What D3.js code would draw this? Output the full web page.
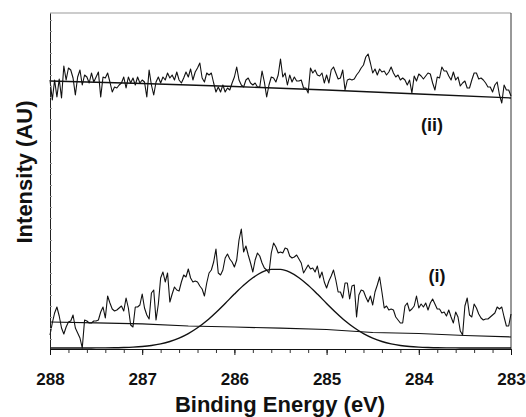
<!DOCTYPE html>
<html>
<head>
<meta charset="utf-8">
<script src="https://cdn.jsdelivr.net/npm/d3@7"></script>
<style>
  body { margin: 0; background: #fff; }
  svg { display: block; }
  text { font-family: "Liberation Sans", Arial, sans-serif; font-weight: bold; fill: #111; }
</style>
</head>
<body>
<script>
// binding energy grid of the scans (eV), 0.025 eV channels
const eStart = 288;
const eEnd = 283;
const eStep = 0.025;
const xTicks = [288, 287, 286, 285, 284, 283];

// spectrum (ii), intensity in arbitrary units
const spectrumII = [
  269, 249, 269, 252, 270, 251, 283, 269, 281, 279,
  271, 254, 272, 279, 264, 274, 272, 266, 276, 267,
  272, 277, 252, 272, 271, 276, 267, 257, 262, 261,
  264, 266, 272, 261, 272, 266, 271, 264, 272, 266,
  269, 267, 252, 279, 264, 254, 267, 272, 266, 272,
  269, 276, 271, 274, 269, 277, 269, 266, 271, 277,
  272, 280, 269, 277, 281, 286, 271, 267, 276, 274,
  276, 266, 257, 262, 257, 264, 257, 261, 259, 266,
  272, 282, 269, 264, 262, 269, 271, 266, 264, 266,
  262, 262, 278, 267, 252, 264, 272, 271, 267, 274,
  290, 272, 276, 264, 274, 267, 272, 268, 268, 269,
  261, 261, 256, 281, 276, 279, 274, 273, 276, 266,
  274, 266, 279, 282, 276, 270, 271, 279, 259, 269,
  270, 269, 270, 274, 277, 281, 284, 292, 295, 286,
  276, 280, 274, 280, 277, 278, 274, 277, 282, 276,
  272, 274, 269, 271, 269, 264, 269, 256, 273, 268,
  275, 273, 270, 273, 276, 275, 266, 259, 272, 271,
  282, 278, 278, 273, 269, 277, 269, 272, 263, 266,
  268, 261, 261, 269, 276, 276, 270, 271, 269, 266,
  262, 262, 257, 264, 267, 254, 246, 264, 259, 259,
  253
];

// spectrum (i)
const spectrumI = [
  14, 26, 36, 42, 33, 21, 15, 22, 27, 28,
  34, 21, 16, 11, 1, 29, 28, 26, 26, 28,
  28, 29, 37, 42, 31, 53, 46, 40, 38, 39,
  41, 43, 38, 51, 41, 24, 22, 42, 42, 44,
  55, 41, 34, 30, 56, 59, 29, 45, 71, 77,
  67, 76, 47, 55, 62, 59, 58, 67, 74, 72,
  80, 71, 67, 68, 67, 63, 60, 53, 66, 76,
  79, 87, 100, 76, 74, 79, 91, 95, 90, 87,
  82, 89, 109, 120, 97, 103, 94, 86, 77, 89,
  96, 93, 86, 81, 79, 76, 96, 106, 102, 96,
  97, 96, 101, 100, 93, 91, 92, 94, 90, 86,
  76, 80, 84, 80, 81, 77, 83, 71, 77, 67,
  61, 68, 73, 79, 69, 57, 57, 51, 66, 66,
  50, 63, 64, 32, 54,
  59, 58, 52, 47, 53, 44, 57, 64, 72, 57,
  41, 43, 39, 40, 39, 32, 29, 26, 26, 43,
  46, 38, 40, 43, 53, 41, 45, 42, 46, 39,
  46, 50, 45, 40, 40, 36, 37, 33, 39, 32,
  26, 37, 32, 18, 14, 43, 51, 34, 32, 45,
  41, 35, 31, 29, 30, 30, 32, 34, 36, 42,
  40, 42, 32, 23, 23, 35
];

// backgrounds
const bgIIEnergy = [288, 287, 286, 285, 284, 283];
const bgIIValue = [268, 265.5, 262.5, 259, 255, 251];
const bgIEnergy = [288, 287.5, 287, 286.5, 286, 285.5, 285, 284.5, 284, 283.5, 283];
const bgIValue = [27, 26.2, 25.2, 23, 22, 20.8, 19.5, 16.5, 15.5, 13.5, 12];

// fitted C 1s component, 0.1 eV steps from 288 to 283
const fitEnergy = [
  288.0, 287.9, 287.8, 287.7, 287.6, 287.5, 287.4, 287.3, 287.2, 287.1,
  287.0, 286.9, 286.8, 286.7, 286.6, 286.5, 286.4, 286.3, 286.2, 286.1,
  286.0, 285.9, 285.8, 285.7, 285.6, 285.5, 285.4, 285.3, 285.2, 285.1,
  285.0, 284.9, 284.8, 284.7, 284.6, 284.5, 284.4, 284.3, 284.2, 284.1,
  284.0, 283.9, 283.8, 283.7, 283.6, 283.5, 283.4, 283.3, 283.2, 283.1, 283.0
];
const fitValue = [
  1.0, 1.0, 1.0, 1.0, 1.0, 1.1, 1.1, 1.2, 1.5, 1.9,
  2.5, 3.5, 5.1, 7.5, 10.9, 15.4, 21.2, 28.3, 36.6, 45.6,
  54.9, 63.7, 71.2, 76.8, 79.6, 79.6, 76.8, 71.2, 63.7, 54.9,
  45.6, 36.6, 28.3, 21.2, 15.4, 10.9, 7.5, 5.1, 3.5, 2.5,
  1.9, 1.5, 1.2, 1.1, 1.1, 1.0, 1.0, 1.0, 1.0, 1.0, 1.0
];

const w = 526;
const h = 417;
const plotLeft = 50, plotRight = 511, plotTop = 13, plotBottom = 349;

const energies = spectrumI.map((d, i) => eStart - i * eStep);

const x = d3.scaleLinear().domain([eStart, eEnd]).range([plotLeft, plotRight]);
const y = d3.scaleLinear().domain([0, 336]).range([plotBottom, plotTop]);

const svg = d3.select('body')
  .append('svg')
  .attr('width', w)
  .attr('height', h);

// frame
svg.append('line')
  .attr('x1', plotLeft).attr('x2', plotRight).attr('y1', plotTop).attr('y2', plotTop)
  .attr('stroke', '#999').attr('stroke-width', 1);
svg.append('line')
  .attr('x1', plotRight).attr('x2', plotRight).attr('y1', plotTop).attr('y2', plotBottom)
  .attr('stroke', '#333').attr('stroke-width', 1);

const line = d3.line()
  .x(d => x(d[0]))
  .y(d => y(d[1]));

const smooth = d3.line()
  .x(d => x(d[0]))
  .y(d => y(d[1]))
  .curve(d3.curveMonotoneX);

// backgrounds and fit
svg.append('path')
  .datum(bgIIEnergy.map((e, i) => [e, bgIIValue[i]]))
  .attr('d', line)
  .attr('fill', 'none').attr('stroke', '#111').attr('stroke-width', 1.3);

svg.append('path')
  .datum(bgIEnergy.map((e, i) => [e, bgIValue[i]]))
  .attr('d', line)
  .attr('fill', 'none').attr('stroke', '#111').attr('stroke-width', 1.2);

svg.append('path')
  .datum(fitEnergy.map((e, i) => [e, fitValue[i]]))
  .attr('d', smooth)
  .attr('fill', 'none').attr('stroke', '#111').attr('stroke-width', 1.4);

// spectra
svg.append('path')
  .datum(energies.map((e, i) => [e, spectrumII[i]]))
  .attr('d', line)
  .attr('fill', 'none').attr('stroke', '#111').attr('stroke-width', 1.1)
  .attr('stroke-linejoin', 'round');

svg.append('path')
  .datum(energies.map((e, i) => [e, spectrumI[i]]))
  .attr('d', line)
  .attr('fill', 'none').attr('stroke', '#111').attr('stroke-width', 1.1)
  .attr('stroke-linejoin', 'round');

// x axis: minor ticks every 0.2 eV, labelled every 1 eV
const minorTicks = d3.range(0, 26).map(i => eStart - i * 0.2);
svg.append('g')
  .attr('transform', 'translate(0,' + plotBottom + ')')
  .call(d3.axisBottom(x).tickValues(minorTicks).tickSize(4).tickFormat(''))
  .call(g => g.select('.domain').remove())
  .attr('color', '#333');

const xAxis = svg.append('g')
  .attr('id', 'x-axis')
  .attr('transform', 'translate(0,' + plotBottom + ')')
  .call(d3.axisBottom(x).tickValues(xTicks).tickSize(6).tickSizeOuter(0).tickPadding(18).tickFormat(d3.format('d')))
  .attr('color', '#111');
xAxis.selectAll('text')
  .style('font-size', '17px')
  .style('font-family', '"Liberation Sans", Arial, sans-serif')
  .style('font-weight', 'bold')
  .attr('fill', '#111');

// y axis without labels, faint inner ticks
svg.append('g')
  .attr('id', 'y-axis')
  .attr('transform', 'translate(' + plotLeft + ',0)')
  .call(d3.axisRight(y).tickValues(d3.range(10, 336, 11)).tickSize(2).tickSizeOuter(0).tickFormat(''))
  .attr('color', '#999')
  .call(g => g.select('.domain').attr('stroke', '#222'));

// labels
svg.append('text')
  .attr('x', 432).attr('y', 131)
  .attr('text-anchor', 'middle')
  .style('font-size', '18px')
  .text('(ii)');

svg.append('text')
  .attr('x', 437).attr('y', 282)
  .attr('text-anchor', 'middle')
  .style('font-size', '18px')
  .text('(i)');

svg.append('text')
  .attr('x', 280).attr('y', 412)
  .attr('text-anchor', 'middle')
  .style('font-size', '22px')
  .text('Binding Energy (eV)');

svg.append('text')
  .attr('transform', 'translate(32,172) rotate(-90)')
  .attr('text-anchor', 'middle')
  .style('font-size', '22px')
  .text('Intensity (AU)');
</script>
</body>
</html>
